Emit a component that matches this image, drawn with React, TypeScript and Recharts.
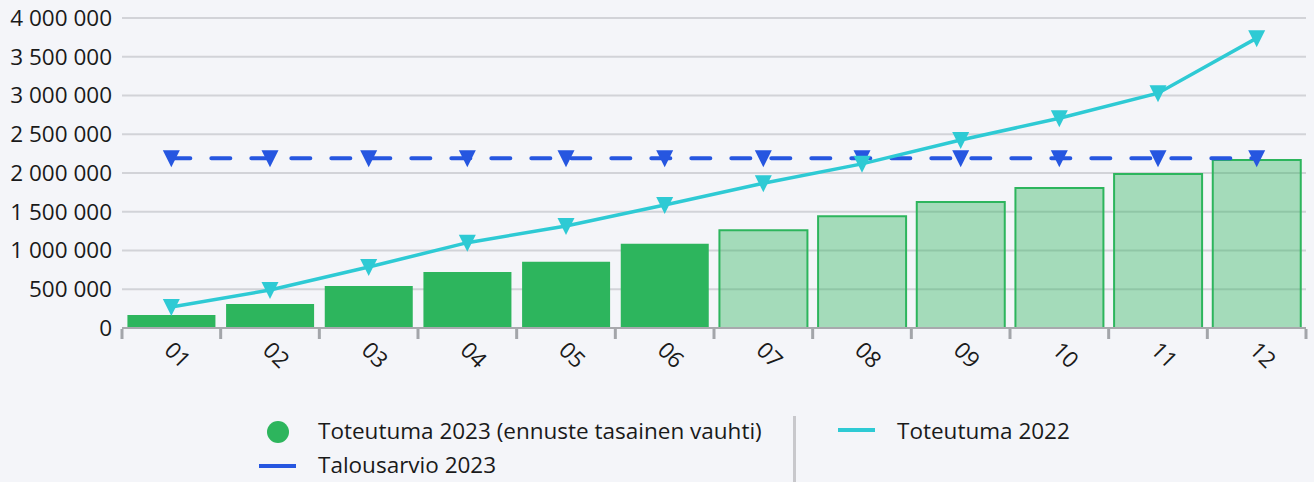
import React from "react";
import {
  ComposedChart,
  Bar,
  Line,
  XAxis,
  YAxis,
  CartesianGrid,
  Cell,
} from "recharts";

const months = ["01", "02", "03", "04", "05", "06", "07", "08", "09", "10", "11", "12"];
const toteutuma2023 = [168000, 310000, 542000, 723000, 856000, 1086000, 1262000, 1443000, 1626000, 1806000, 1987000, 2168000];
const ennuste = [false, false, false, false, false, false, true, true, true, true, true, true];
const toteutuma2022 = [270000, 490000, 787000, 1101000, 1316000, 1587000, 1867000, 2118000, 2426000, 2706000, 3030000, 3740000];
const talousarvio2023 = [2190000, 2190000, 2190000, 2190000, 2190000, 2190000, 2190000, 2190000, 2190000, 2190000, 2190000, 2190000];
const yTicks = [0, 500000, 1000000, 1500000, 2000000, 2500000, 3000000, 3500000, 4000000];

const data = months.map((m, i) => ({
  month: m,
  t2023: toteutuma2023[i],
  t2022: toteutuma2022[i],
  budget: talousarvio2023[i],
}));

const GREEN = "#2db55d";
const TEAL = "#2ecad4";
const BLUE = "#2656e0";
const FONT = "'Open Sans', 'Noto Sans', sans-serif";
const FS = 22.5;

// leveys / 12 kuukautta
const BAND = (1306 - 122) / 12;

const fmt = (v: number) => String(v).replace(/\B(?=(\d{3})+(?!\d))/g, " ");

const triangle = (color: string) => (props: any) => {
  const { cx, cy, index } = props;
  if (cx == null || cy == null) return <g key={`e${index}`} />;
  return (
    <path
      key={`t${index}`}
      d={`M${cx - 8.5},${cy - 8}L${cx + 8.5},${cy - 8}L${cx},${cy + 9}Z`}
      fill={color}
    />
  );
};

// kuukausien väliset tikit + kallistetut tekstit
const MonthTick = ({ x, y, payload, index }: any) => {
  const tx = x + 3;
  const ty = y + 12;
  return (
    <g>
      <line x1={x - BAND / 2} x2={x - BAND / 2} y1={y + 1} y2={y + 11} stroke="#a3a5aa" strokeWidth={3} />
      {index === months.length - 1 && (
        <line x1={x + BAND / 2} x2={x + BAND / 2} y1={y + 1} y2={y + 11} stroke="#a3a5aa" strokeWidth={3} />
      )}
      <text
        x={tx}
        y={ty}
        dy="0.72em"
        transform={`rotate(45, ${tx}, ${ty})`}
        textAnchor="start"
        fill="#1a1a1a"
        fontSize={FS}
        fontFamily={FONT}
      >
        {payload.value}
      </text>
    </g>
  );
};

const legendText: React.CSSProperties = {
  position: "absolute",
  fontSize: FS,
  lineHeight: "30px",
  color: "#1a1a1a",
  whiteSpace: "nowrap",
};

export default function App() {
  return (
    <div
      style={{
        position: "relative",
        width: 1314,
        height: 482,
        background: "#f4f5f9",
        fontFamily: FONT,
        overflow: "hidden",
      }}
    >
      <style>{`body{margin:0;background:#f4f5f9}`}</style>
      <ComposedChart
        width={1314}
        height={400}
        data={data}
        margin={{ top: 18, right: 8, left: 0, bottom: 0 }}
        barCategoryGap="5.5%"
      >
        <CartesianGrid vertical={false} stroke="#d2d3d8" strokeWidth={2} />
        <XAxis
          dataKey="month"
          height={72}
          interval={0}
          tickLine={false}
          tickSize={0}
          tickMargin={0}
          axisLine={{ stroke: "#a8a9ad", strokeWidth: 2 }}
          tick={<MonthTick />}
        />
        <YAxis
          width={122}
          domain={[0, 4000000]}
          ticks={yTicks}
          axisLine={false}
          tickLine={false}
          tickMargin={4}
          tickFormatter={fmt}
          tick={{ fill: "#1a1a1a", fontSize: FS, fontFamily: FONT }}
        />
        <Bar dataKey="t2023" name="Toteutuma 2023 (ennuste tasainen vauhti)" isAnimationActive={false}>
          {data.map((d, i) => (
            <Cell
              key={d.month}
              fill={GREEN}
              fillOpacity={ennuste[i] ? 0.4 : 1}
              stroke={GREEN}
              strokeWidth={ennuste[i] ? 2 : 0}
            />
          ))}
        </Bar>
        <Line
          dataKey="budget"
          name="Talousarvio 2023"
          type="linear"
          stroke={BLUE}
          strokeWidth={4}
          strokeDasharray="19 21"
          strokeLinecap="round"
          dot={triangle(BLUE)}
          activeDot={false}
          isAnimationActive={false}
        />
        <Line
          dataKey="t2022"
          name="Toteutuma 2022"
          type="linear"
          stroke={TEAL}
          strokeWidth={3.5}
          dot={triangle(TEAL)}
          activeDot={false}
          isAnimationActive={false}
        />
      </ComposedChart>

      {/* selite */}
      <div style={{ position: "absolute", left: 267, top: 421, width: 22, height: 22, borderRadius: 11, background: GREEN }} />
      <div style={{ ...legendText, left: 318, top: 416 }}>Toteutuma 2023 (ennuste tasainen vauhti)</div>
      <div style={{ position: "absolute", left: 259, top: 464, width: 37, height: 4, background: BLUE }} />
      <div style={{ ...legendText, left: 318, top: 450 }}>Talousarvio 2023</div>
      <div style={{ position: "absolute", left: 793, top: 416, width: 3, height: 66, background: "#c8c8cc" }} />
      <div style={{ position: "absolute", left: 838, top: 428, width: 37, height: 4, background: TEAL }} />
      <div style={{ ...legendText, left: 897, top: 416 }}>Toteutuma 2022</div>
    </div>
  );
}
